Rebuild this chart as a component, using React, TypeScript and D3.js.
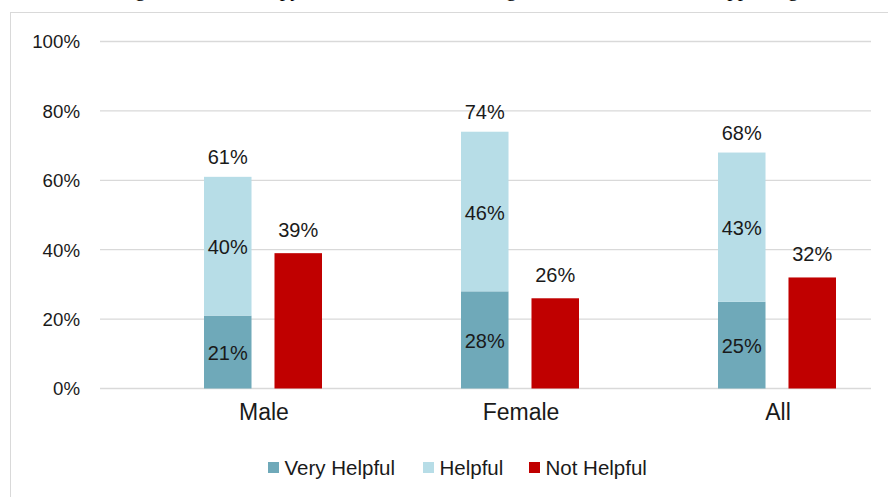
import * as d3 from "d3";

const WIDTH = 888;
const HEIGHT = 497;

// values (percent)
const categories = ["Male", "Female", "All"];
const veryHelpful = [21, 28, 25];
const helpful = [40, 46, 43];
const notHelpful = [39, 26, 32];
const yTicks = [0, 20, 40, 60, 80, 100];
const legendLabels = ["Very Helpful", "Helpful", "Not Helpful"];

const TITLE =
  "Rating of Music Therapy as an Aid for the Healing and Mental Health in Supporting";

const COLORS = ["#6fa9b9", "#b7dde7", "#c00000"];
const GRID = "#d9d9d9";
const TEXT = "#1a1a1a";
const FONT = "'Liberation Sans', Arial, sans-serif";

const PLOT = { left: 100, right: 871, top: 41.5, bottom: 388.5 };

export default function App() {
  const yScale = d3
    .scaleLinear()
    .domain([0, 100])
    .range([PLOT.bottom, PLOT.top]);

  // categories are shifted right of the gridlines in the original
  const xScale = d3
    .scaleBand<string>()
    .domain(categories)
    .range([134.5, 905.5])
    .padding(0);

  const subScale = d3
    .scaleBand<string>()
    .domain(["stack", "not"])
    .range([-59, 59])
    .paddingInner(0.326)
    .paddingOuter(0);

  const bw = subScale.bandwidth();

  const groups = categories.map((c, i) => {
    const cx = (xScale(c) ?? 0) + xScale.bandwidth() / 2;
    const xs = cx + (subScale("stack") ?? 0);
    const xn = cx + (subScale("not") ?? 0);
    const vh = veryHelpful[i];
    const h = helpful[i];
    const total = vh + h;
    const nh = notHelpful[i];
    return (
      <g key={c}>
        <rect
          x={xs}
          y={yScale(vh)}
          width={bw}
          height={yScale(0) - yScale(vh)}
          fill={COLORS[0]}
        />
        <rect
          x={xs}
          y={yScale(total)}
          width={bw}
          height={yScale(vh) - yScale(total)}
          fill={COLORS[1]}
        />
        <rect
          x={xn}
          y={yScale(nh)}
          width={bw}
          height={yScale(0) - yScale(nh)}
          fill={COLORS[2]}
        />
        {/* segment labels */}
        <text x={xs + bw / 2} y={(yScale(0) + yScale(vh)) / 2 + 8} textAnchor="middle" fontSize={20} fill={TEXT}>
          {vh}%
        </text>
        <text x={xs + bw / 2} y={(yScale(vh) + yScale(total)) / 2 + 8} textAnchor="middle" fontSize={20} fill={TEXT}>
          {h}%
        </text>
        <text x={xs + bw / 2} y={yScale(total) - 12.5} textAnchor="middle" fontSize={20} fill={TEXT}>
          {total}%
        </text>
        <text x={xn + bw / 2} y={yScale(nh) - 16.5} textAnchor="middle" fontSize={20} fill={TEXT}>
          {nh}%
        </text>
        <text x={cx + 1} y={420} textAnchor="middle" fontSize={23} fill={TEXT}>
          {c}
        </text>
      </g>
    );
  });

  const legendX = [268, 423, 529];

  return (
    <svg
      width={WIDTH}
      height={HEIGHT}
      style={{ position: "absolute", left: 0, top: 0, background: "#fff" }}
      fontFamily={FONT}
    >
      {/* title clipped at the top edge: only descenders show */}
      <text
        x={89.5}
        y={-4}
        fontFamily="'Liberation Serif', 'Times New Roman', serif"
        fontSize={21}
        fill="#000"
      >
        {TITLE}
      </text>

      {/* chart frame */}
      <rect x={10.5} y={12.5} width={900} height={500} fill="#fff" stroke={GRID} strokeWidth={1} />

      {/* gridlines + y labels */}
      {yTicks.map((t) => (
        <g key={t} transform={`translate(0, ${yScale(t)})`}>
          <line x1={PLOT.left} x2={PLOT.right} stroke={GRID} strokeWidth={1.3} />
          <text x={80} y={6.8} textAnchor="end" fontSize={18.7} fill={TEXT}>
            {t}%
          </text>
        </g>
      ))}

      {groups}

      {/* legend */}
      {legendLabels.map((l, i) => (
        <g key={l} transform={`translate(${legendX[i]}, 462)`}>
          <rect width={11} height={11} fill={COLORS[i]} />
          <text x={16.5} y={13} fontSize={20.5} fill={TEXT}>
            {l}
          </text>
        </g>
      ))}
    </svg>
  );
}
